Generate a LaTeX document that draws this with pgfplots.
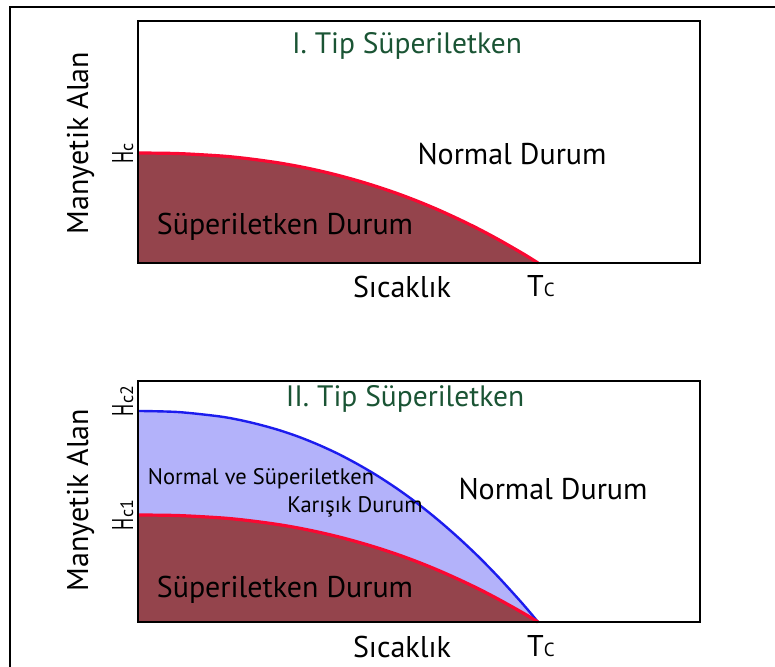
\documentclass[border=0pt]{standalone}
\usepackage{fontspec}
\setmainfont{PT Sans}
\usepackage{graphicx}
\usepackage{pgfplots}
\usepackage{pgfplotstable}
\pgfplotsset{compat=1.18}
\definecolor{scfill}{RGB}{148,68,76}
\definecolor{scline}{RGB}{250,8,50}
\definecolor{mixfill}{RGB}{179,178,250}
\definecolor{mixline}{RGB}{28,28,238}
\definecolor{titlegreen}{RGB}{26,84,52}

\pgfplotstableread{
t     h1     h2
0     1.000  1.972
0.1   0.995  1.962
0.2   0.975  1.923
0.25  0.959  1.891
0.3   0.937  1.848
0.35  0.911  1.796
0.4   0.879  1.733
0.45  0.841  1.658
0.5   0.797  1.572
0.55  0.747  1.473
0.6   0.691  1.363
0.65  0.629  1.240
0.7   0.560  1.104
0.75  0.484  0.954
0.8   0.401  0.791
0.85  0.312  0.615
0.9   0.215  0.424
0.95  0.111  0.219
0.975 0.057  0.112
1     0.000  0.000
}\curves

\newcommand{\bigsz}{\fontsize{30}{33}\selectfont}
\newcommand{\titsz}{\fontsize{29.5}{32}\selectfont}
\newcommand{\midsz}{\fontsize{22.5}{25}\selectfont}
\newcommand{\Hlab}[1]{\fontsize{30}{33}\selectfont\scalebox{0.6}[1]{H}{\fontsize{18}{19}\selectfont #1}}

\begin{document}
\begin{tikzpicture}[x=1pt,y=1pt]
\pgfplotsset{
  phase/.style={
    scale only axis, width=562pt, anchor=south west,
    xmin=0, xmax=1.405, ymin=0,
    xtick=\empty, ytick=\empty,
    axis line style={line width=2.6pt, black},
    axis on top, clip=false,
  }
}
% outer frame
\draw[line width=1.8pt] (10,-5) -- (10,659) -- (790,659);

% ---------- Type I ----------
\begin{axis}[phase, at={(138pt,403pt)}, height=242pt, ymax=2.2]
  \addplot[fill=scfill, draw=none, smooth] table[x=t,y=h1]{\curves} \closedcycle;
  \addplot[scline, line width=3.2pt, smooth] table[x=t,y=h1]{\curves};
\end{axis}

% ---------- Type II ----------
\begin{axis}[phase, at={(138pt,44pt)}, height=241pt, ymax=2.252]
  \addplot[fill=mixfill, draw=none, smooth] table[x=t,y=h2]{\curves} \closedcycle;
  \addplot[fill=scfill, draw=none, smooth] table[x=t,y=h1]{\curves} \closedcycle;
  \addplot[mixline, line width=2.4pt, smooth] table[x=t,y=h2]{\curves};
  \addplot[scline, line width=3.2pt, smooth] table[x=t,y=h1]{\curves};
\end{axis}

% ---------- texts, Type I ----------
\node[anchor=base, text=titlegreen] at (407,612) {\titsz I. Tip Süperiletken};
\node[anchor=base] at (512,501) {\bigsz Normal Durum};
\node[anchor=base] at (285,431) {\bigsz Süperiletken Durum};
\node[anchor=base, rotate=90] at (88,523) {\bigsz Manyetik Alan};
\node[anchor=base, rotate=90] at (133,513) {\Hlab{c}};
\node[anchor=base] at (402,368) {\bigsz Sıcaklık};
\node[anchor=base west, inner sep=0pt] at (527,369) {\bigsz T{\fontsize{19}{20}\selectfont C}};

% ---------- texts, Type II ----------
\node[anchor=base, text=titlegreen] at (405,259) {\titsz II. Tip Süperiletken};
\node[anchor=base] at (553,166) {\bigsz Normal Durum};
\node[anchor=base] at (285,69) {\bigsz Süperiletken Durum};
\node[anchor=base] at (261,181) {\midsz Normal ve Süperiletken};
\node[anchor=base] at (355,153) {\midsz Karışık Durum};
\node[anchor=base, rotate=90] at (88,166) {\bigsz Manyetik Alan};
\node[anchor=base, rotate=90] at (133,265) {\Hlab{c2}};
\node[anchor=base, rotate=90] at (133,151) {\Hlab{c1}};
\node[anchor=base] at (402,9) {\bigsz Sıcaklık};
\node[anchor=base west, inner sep=0pt] at (527,10) {\bigsz T{\fontsize{19}{20}\selectfont C}};

\pgfresetboundingbox
\useasboundingbox (0,0) rectangle (775,666);
\end{tikzpicture}
\end{document}
